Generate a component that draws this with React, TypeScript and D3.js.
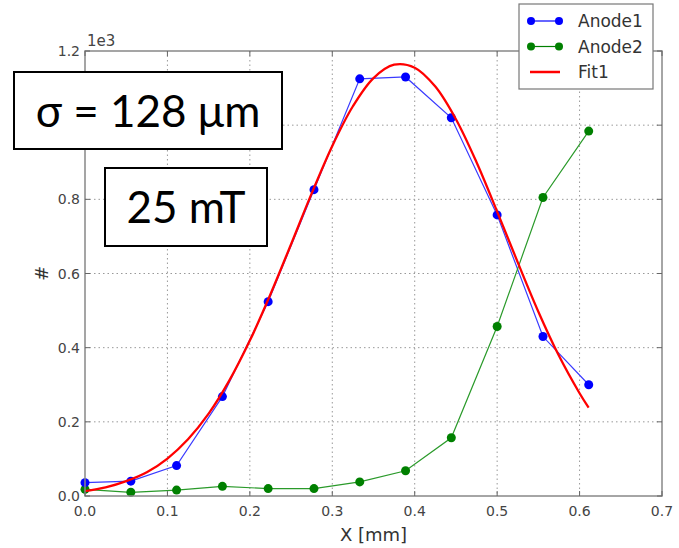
import * as d3 from 'd3';

// Measured positions along the strip (mm)
const xPos = [0, 0.0556, 0.1111, 0.1667, 0.2222, 0.2778, 0.3333, 0.3889, 0.4444, 0.5, 0.5556, 0.6111];
// Counts per anode
const anode1 = [36, 40, 82, 268, 524, 826, 1125, 1130, 1020, 758, 430, 300];
const anode2 = [18, 10, 16, 26, 20, 20, 38, 68, 157, 457, 805, 984];
// Fit curve
const fitX = [0, 0.025, 0.05, 0.075, 0.1, 0.125, 0.15, 0.175, 0.2, 0.225, 0.25, 0.275, 0.3, 0.325, 0.35, 0.375, 0.4, 0.425, 0.45, 0.475, 0.5, 0.525, 0.55, 0.575, 0.6, 0.611];
const fitY = [13, 23, 40, 64, 101, 153, 222, 311, 419, 544, 679, 816, 944, 1051, 1127, 1163, 1155, 1104, 1016, 900, 767, 630, 497, 378, 277, 238];

const xTicks = [0, 0.1, 0.2, 0.3, 0.4, 0.5, 0.6, 0.7];
const yTicks = [0, 200, 400, 600, 800, 1000, 1200];

const legendItems = [
  { name: 'Anode1', color: '#0000ff', marker: true },
  { name: 'Anode2', color: '#008000', marker: true },
  { name: 'Fit1', color: '#ff0000', marker: false },
];

export default function App() {
  const width = 679, height = 548;
  const left = 85, right = 662, top = 51, bottom = 496;

  const x = d3.scaleLinear().domain([0, 0.7]).range([left, right]);
  const y = d3.scaleLinear().domain([0, 1200]).range([bottom, top]);

  const pts1 = xPos.map((d, i) => [d, anode1[i]] as [number, number]);
  const pts2 = xPos.map((d, i) => [d, anode2[i]] as [number, number]);
  const ptsFit = fitX.map((d, i) => [d, fitY[i]] as [number, number]);

  const line = d3.line<[number, number]>().x((d) => x(d[0])).y((d) => y(d[1]));
  const smooth = d3.line<[number, number]>().x((d) => x(d[0])).y((d) => y(d[1])).curve(d3.curveCatmullRom);

  const tickFont = { fontFamily: 'DejaVu Sans', fontSize: 14, fill: '#444' };

  return (
    <div style={{ position: 'absolute', left: 0, top: 0 }}>
      <svg width={width} height={height} viewBox={`0 0 ${width} ${height}`}>
        <rect width={width} height={height} fill="#fff" />

        {/* grid */}
        {xTicks.slice(1, -1).map((t) => (
          <line key={'gx' + t} x1={x(t)} x2={x(t)} y1={top} y2={bottom} stroke="#999" strokeWidth={1} strokeDasharray="1.5,3" />
        ))}
        {yTicks.slice(1, -1).map((t) => (
          <line key={'gy' + t} x1={left} x2={right} y1={y(t)} y2={y(t)} stroke="#999" strokeWidth={1} strokeDasharray="1.5,3" />
        ))}

        {/* series */}
        <path d={line(pts1) ?? ''} fill="none" stroke="#3a3aff" strokeWidth={1.2} />
        <path d={line(pts2) ?? ''} fill="none" stroke="#2a9a2a" strokeWidth={1.2} />
        {pts2.map((d, i) => (
          <circle key={'g' + i} cx={x(d[0])} cy={y(d[1])} r={4.5} fill="#008000" />
        ))}
        {pts1.map((d, i) => (
          <circle key={'b' + i} cx={x(d[0])} cy={y(d[1])} r={4.5} fill="#0000ff" />
        ))}
        <path d={smooth(ptsFit) ?? ''} fill="none" stroke="#ff0000" strokeWidth={2.3} />

        {/* frame */}
        <rect x={left} y={top} width={right - left} height={bottom - top} fill="none" stroke="#888" strokeWidth={1.5} />

        {/* ticks */}
        {xTicks.map((t) => (
          <g key={'tx' + t}>
            <line x1={x(t)} x2={x(t)} y1={bottom} y2={bottom - 5} stroke="#666" />
            <line x1={x(t)} x2={x(t)} y1={top} y2={top + 5} stroke="#666" />
            <text x={x(t)} y={bottom + 20} textAnchor="middle" {...tickFont}>{t.toFixed(1)}</text>
          </g>
        ))}
        {yTicks.map((t) => (
          <g key={'ty' + t}>
            <line x1={left} x2={left + 5} y1={y(t)} y2={y(t)} stroke="#666" />
            <line x1={right} x2={right - 5} y1={y(t)} y2={y(t)} stroke="#666" />
            {t !== 1000 && (
              <text x={left - 5} y={y(t) + 5} textAnchor="end" {...tickFont}>{(t / 1000).toFixed(1)}</text>
            )}
          </g>
        ))}
        <text x={left + 2} y={top - 5} {...tickFont} fontSize={15}>1e3</text>

        {/* axis labels */}
        <text x={(left + right) / 2} y={541} textAnchor="middle" fontFamily="DejaVu Sans" fontSize={18} fill="#333">X [mm]</text>
        <text transform={`translate(48, ${(top + bottom) / 2}) rotate(-90)`} textAnchor="middle" fontFamily="DejaVu Sans" fontSize={18} fill="#333">#</text>

        {/* legend */}
        <rect x={519} y={4} width={134} height={85} fill="#fff" stroke="#777" strokeWidth={1.2} />
        {legendItems.map((it, i) => {
          const ly = 21 + i * 25.5;
          return (
            <g key={it.name}>
              <line x1={530} x2={560} y1={ly} y2={ly} stroke={it.color} strokeWidth={it.marker ? 1.2 : 2.5} />
              {it.marker && <circle cx={531} cy={ly} r={4} fill={it.color} />}
              {it.marker && <circle cx={559} cy={ly} r={4} fill={it.color} />}
              <text x={578} y={ly + 6} fontFamily="DejaVu Sans" fontSize={17} fill="#333">{it.name}</text>
            </g>
          );
        })}

        {/* annotation boxes */}
        <rect x={14} y={72} width={268} height={77} fill="#fff" stroke="#000" strokeWidth={2} />
        <text x={148} y={127} textAnchor="middle" fontFamily="Lato" fontSize={44} fill="#000">σ = 128 μm</text>
        <rect x={105} y={168} width={162} height={78} fill="#fff" stroke="#000" strokeWidth={2} />
        <text x={186} y={223} textAnchor="middle" fontFamily="Lato" fontSize={44} fill="#000">25 mT</text>
      </svg>
    </div>
  );
}
